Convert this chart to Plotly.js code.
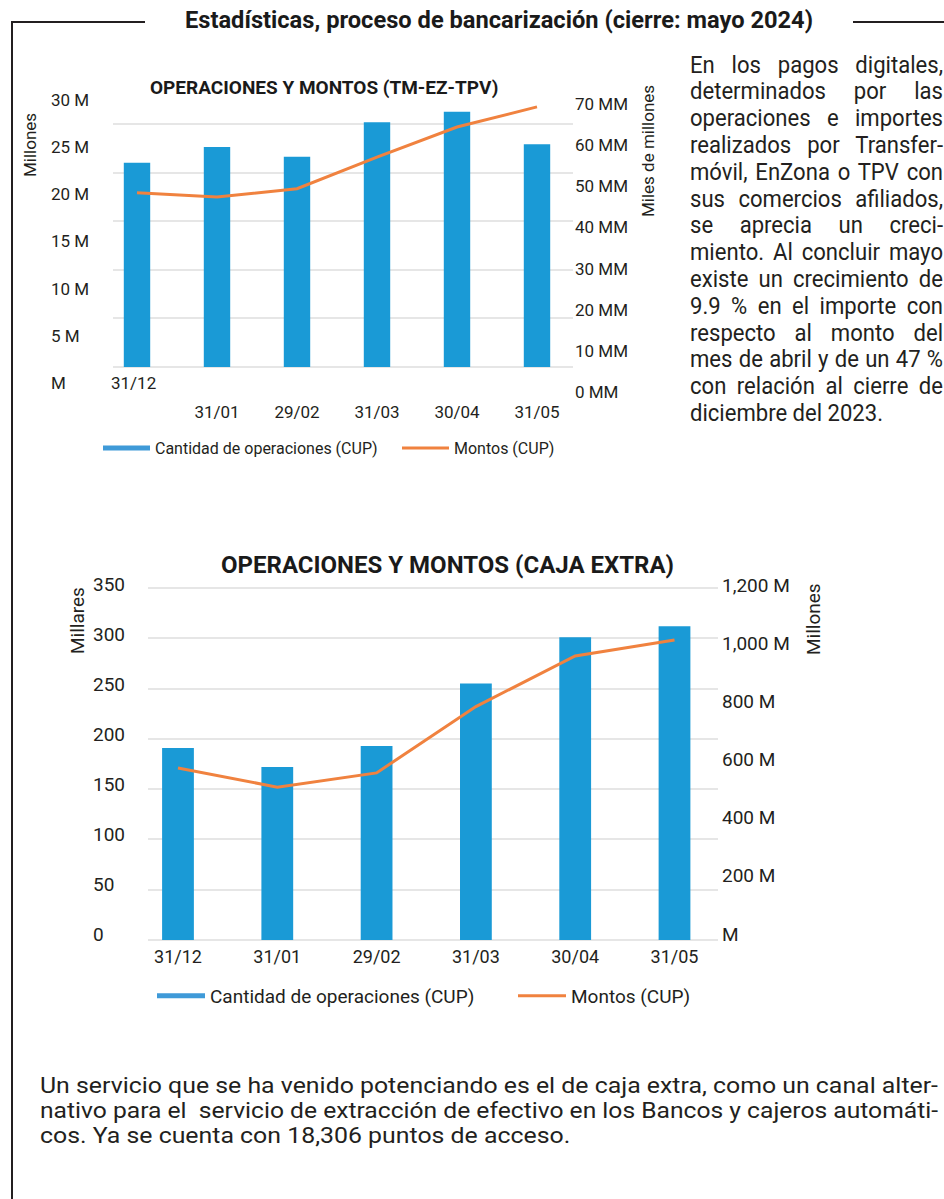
<!DOCTYPE html>
<html><head><meta charset="utf-8">
<script src="https://cdn.plot.ly/plotly-3.0.1.min.js"></script>
<style>
html,body{margin:0;padding:0;background:#fff;}
body{width:944px;height:1199px;position:relative;overflow:hidden;font-family:Roboto,"Liberation Sans",Arial,sans-serif;color:#231f20;}
#plot{position:absolute;left:0;top:0;width:944px;height:1199px;}
.ln{position:absolute;background:#231f20;}
</style></head><body>
<div id="plot"></div>
<div class="ln" style="left:11px;top:21px;width:2px;height:1178px"></div>
<div class="ln" style="left:11px;top:21px;width:134px;height:2px"></div>
<div class="ln" style="left:853px;top:21px;width:91px;height:2px"></div>
<script>
// ---------- data ----------
const categorias = ['31/12','31/01','29/02','31/03','30/04','31/05'];
// Chart 1: TM-EZ-TPV
const operacionesTM = [23.2, 25.0, 23.9, 27.8, 29.0, 25.3];   // millones
const montosTM = [48.4, 47.4, 49.4, 57.1, 64.4, 69.3];        // miles de millones
const ticksIzqTMvals = [0,5,10,15,20,25,30];
const ticksIzqTM = ['M','5 M','10 M','15 M','20 M','25 M','30 M'];
const ticksDerTMvals = [0,10,20,30,40,50,60,70];
const ticksDerTM = ['0 MM','10 MM','20 MM','30 MM','40 MM','50 MM','60 MM','70 MM'];
// Chart 2: Caja extra
const operacionesCaja = [191, 172, 193, 255, 301, 312];      // millares
const montosCaja = [571, 505, 554, 782, 956, 1011];          // millones
const ticksIzqCajaVals = [0,50,100,150,200,250,300,350];
const ticksIzqCaja = ['0','50','100','150','200','250','300','350'];
const ticksDerCajaVals = [0,200,400,600,800,1000,1200];
const ticksDerCaja = ['M','200 M','400 M','600 M','800 M','1,000 M','1,200 M'];
const serieOps = 'Cantidad de operaciones (CUP)';
const serieMontos = 'Montos (CUP)';
const tituloPagina = 'Estadísticas, proceso de bancarización (cierre: mayo 2024)';
const titulo1 = 'OPERACIONES Y MONTOS (TM-EZ-TPV)';
const titulo2 = 'OPERACIONES Y MONTOS (CAJA EXTRA)';
const parrafo1 = ['En los pagos digitales,','determinados por las','operaciones e importes','realizados por Transfer-','móvil, EnZona o TPV con','sus comercios afiliados,','se aprecia un creci-','miento. Al concluir mayo','existe un crecimiento de','9.9 % en el importe con','respecto al monto del','mes de abril y de un 47 %','con relación al cierre de','diciembre del 2023.'];
const parrafo2 = ['Un servicio que se ha venido potenciando es el de caja extra, como un canal alter-','nativo para el  servicio de extracción de efectivo en los Bancos y cajeros automáti-','cos. Ya se cuenta con 18,306 puntos de acceso.'];

// ---------- helpers ----------
const W = 944, H = 1199;
const fx = p => p / W;
const fy = p => 1 - p / H;
function rangeFor(domTop, domBot, p0, v0, p1, v1){
  const k = (p0 - p1) / (v1 - v0);
  return [v0 - (domBot - p0) / k, v0 + (p0 - domTop) / k];
}
const fam = 'Roboto, "Liberation Sans", Arial, sans-serif';
const ink = '#231f20';
const azul = '#1a9ad6';
const azulLeyenda = '#3f9ad8';
const naranja = '#f0823f';
const gris = '#e6e6e6';

// ---------- chart 1 geometry ----------
const c1Top = 95, c1Bot = 396;
const r1 = rangeFor(c1Top, c1Bot, 367, 0, 103, 30);
const pxPerUnit1 = (367 - 103) / 30;
const grid1 = 48.6 / pxPerUnit1;
const r1L = rangeFor(c1Top, c1Bot, 383, 0, 100, 30);
const r1R = rangeFor(c1Top, c1Bot, 392, 0, 104, 70);
// ---------- chart 2 geometry ----------
const c2Top = 578, c2Bot = 942;
const r2 = rangeFor(c2Top, c2Bot, 940, 0, 588, 350);
const r2L = rangeFor(c2Top, c2Bot, 934, 0, 584, 350);
const r2R = rangeFor(c2Top, c2Bot, 934, 0, 585, 1200);

const tf = s => ({family: fam, size: s, color: ink});

const data = [
  {type:'bar', x:categorias, y:operacionesTM, xaxis:'x', yaxis:'y', width:0.33,
   marker:{color:azul}, showlegend:false, hoverinfo:'skip'},
  {type:'scatter', mode:'lines', x:categorias, y:montosTM, xaxis:'x', yaxis:'y2',
   line:{color:naranja, width:3}, showlegend:false, hoverinfo:'skip'},
  {type:'scatter', mode:'lines', x:[null], y:[null], xaxis:'x', yaxis:'y3',
   showlegend:false, hoverinfo:'skip'},
  {type:'scatter', mode:'lines', x:[null], y:[null], xaxis:'x', yaxis:'y', name:serieOps,
   legend:'legend', line:{color:azulLeyenda, width:5}, hoverinfo:'skip'},
  {type:'scatter', mode:'lines', x:[null], y:[null], xaxis:'x', yaxis:'y', name:serieMontos,
   legend:'legend', line:{color:naranja, width:3}, hoverinfo:'skip'},

  {type:'bar', x:categorias, y:operacionesCaja, xaxis:'x2', yaxis:'y4', width:0.32,
   marker:{color:azul}, showlegend:false, hoverinfo:'skip'},
  {type:'scatter', mode:'lines', x:categorias, y:montosCaja, xaxis:'x2', yaxis:'y5',
   line:{color:naranja, width:3}, showlegend:false, hoverinfo:'skip'},
  {type:'scatter', mode:'lines', x:[null], y:[null], xaxis:'x2', yaxis:'y6',
   showlegend:false, hoverinfo:'skip'},
  {type:'scatter', mode:'lines', x:[null], y:[null], xaxis:'x2', yaxis:'y4', name:serieOps,
   legend:'legend2', line:{color:azulLeyenda, width:5}, hoverinfo:'skip'},
  {type:'scatter', mode:'lines', x:[null], y:[null], xaxis:'x2', yaxis:'y4', name:serieMontos,
   legend:'legend2', line:{color:naranja, width:3}, hoverinfo:'skip'}
];

const noLine = {showline:false, zeroline:false, ticks:''};

const layout = {
  width: W, height: H, margin:{l:0,r:0,t:0,b:0},
  paper_bgcolor:'rgba(0,0,0,0)', plot_bgcolor:'rgba(0,0,0,0)',
  font:{family:fam, color:ink},
  barmode:'overlay',
  xaxis: Object.assign({domain:[fx(113), fx(573)], anchor:'y', type:'category',
    categoryorder:'array', categoryarray:categorias, range:[-0.3, 5.45],
    tickmode:'array', tickvals:categorias, ticktext:categorias.map((c,i)=> i===0 ? '' : c),
    tickfont:tf(17), showgrid:false, ticklabelstandoff:4}, noLine),
  yaxis: Object.assign({domain:[fy(c1Bot), fy(c1Top)], anchor:'x', range:r1,
    showgrid:true, gridcolor:gris, gridwidth:2, tick0:0, dtick:grid1, showticklabels:false}, noLine),
  yaxis2: Object.assign({overlaying:'y', side:'right', anchor:'x', range:r1R,
    tickmode:'array', tickvals:ticksDerTMvals, ticktext:ticksDerTM, tickfont:tf(17),
    showgrid:false, ticklabelstandoff:1}, noLine),
  yaxis3: Object.assign({overlaying:'y', side:'right', anchor:'free', position:fx(50), range:r1L,
    tickmode:'array', tickvals:ticksIzqTMvals, ticktext:ticksIzqTM, tickfont:tf(17),
    showgrid:false, ticklabelstandoff:0}, noLine),

  xaxis2: Object.assign({domain:[fx(148), fx(718)], anchor:'y4', type:'category',
    categoryorder:'array', categoryarray:categorias, range:[-0.302, 5.438],
    tickmode:'array', tickvals:categorias, ticktext:categorias,
    tickfont:tf(18), showgrid:false, ticklabelstandoff:2}, noLine),
  yaxis4: Object.assign({domain:[fy(c2Bot), fy(c2Top)], anchor:'x2', range:r2,
    showgrid:true, gridcolor:gris, gridwidth:2, tick0:0, dtick:50, showticklabels:false}, noLine),
  yaxis5: Object.assign({overlaying:'y4', side:'right', anchor:'x2', range:r2R,
    tickmode:'array', tickvals:ticksDerCajaVals, ticktext:ticksDerCaja, tickfont:tf(19),
    showgrid:false, ticklabelstandoff:3}, noLine),
  yaxis6: Object.assign({overlaying:'y4', side:'right', anchor:'free', position:fx(92), range:r2L,
    tickmode:'array', tickvals:ticksIzqCajaVals, ticktext:ticksIzqCaja, tickfont:tf(19),
    showgrid:false, ticklabelstandoff:0}, noLine),

  legend: {orientation:'h', x:fx(98), xanchor:'left', y:fy(448), yanchor:'middle',
    font:{family:fam, size:16, color:ink}, itemwidth:47, entrywidth:237, entrywidthmode:'pixels',
    bgcolor:'rgba(0,0,0,0)', borderwidth:0, traceorder:'normal'},
  legend2: {orientation:'h', x:fx(152), xanchor:'left', y:fy(996), yanchor:'middle',
    font:{family:fam, size:19, color:ink}, itemwidth:48, entrywidth:298, entrywidthmode:'pixels',
    bgcolor:'rgba(0,0,0,0)', borderwidth:0, traceorder:'normal'},

  annotations: [
    {text:'<b>'+titulo1+'</b>', x:fx(324), y:fy(87), xref:'paper', yref:'paper',
     showarrow:false, xanchor:'center', yanchor:'middle', font:{family:fam, size:19, color:'#1a1a1a'}},
    {text:'Millones', x:fx(30), y:fy(145), xref:'paper', yref:'paper', textangle:-90,
     showarrow:false, xanchor:'center', yanchor:'middle', font:tf(17)},
    {text:'Miles de millones', x:fx(648), y:fy(151), xref:'paper', yref:'paper', textangle:-90,
     showarrow:false, xanchor:'center', yanchor:'middle', font:tf(17)},
    {text:categorias[0], x:categorias[0], xref:'x', y:fy(383), yref:'paper', xshift:-4,
     showarrow:false, xanchor:'center', yanchor:'middle', font:tf(17)},
    {text:'<b>'+titulo2+'</b>', x:fx(447), y:fy(565), xref:'paper', yref:'paper',
     showarrow:false, xanchor:'center', yanchor:'middle', font:{family:fam, size:24, color:'#1a1a1a'}},
    {text:'Millares', x:fx(77), y:fy(621), xref:'paper', yref:'paper', textangle:-90,
     showarrow:false, xanchor:'center', yanchor:'middle', font:tf(19)},
    {text:'Millones', x:fx(813), y:fy(619), xref:'paper', yref:'paper', textangle:-90,
     showarrow:false, xanchor:'center', yanchor:'middle', font:tf(19)}
  ]
};

Plotly.newPlot('plot', data, layout, {staticPlot:true, displayModeBar:false});

// ---------- HTML text ----------
function makeLine(t, left, centerY, lh, fs, weight, color){
  const d = document.createElement('div');
  d.style.cssText = 'position:absolute;left:'+left+'px;top:'+(centerY - lh/2)+'px;height:'+lh+'px;line-height:'+lh+'px;font-size:'+fs+'px;white-space:pre;font-weight:'+weight+';color:'+color+';';
  const s = document.createElement('span');
  s.textContent = t;
  s.style.display = 'inline-block';
  s.style.transformOrigin = '0 50%';
  d.appendChild(s);
  document.body.appendChild(d);
  return s;
}
// justified block: every line but the last fills `width`; base horizontal scaling `cond`
function placeBlock(lines, left, width, firstCenter, lh, fs, cond, lastWidth){
  lines.forEach((t, i) => {
    const s = makeLine(t, left, firstCenter + i*lh, lh, fs, 400, ink);
    const w = s.getBoundingClientRect().width;
    const last = i === lines.length - 1;
    if (last) {
      const target = lastWidth || w * cond;
      s.style.transform = 'scaleX(' + (target / w) + ')';
    } else if (w * cond >= width) {
      s.style.transform = 'scaleX(' + (width / w) + ')';
    } else {
      const n = (t.match(/ /g) || []).length;
      if (n) s.style.wordSpacing = ((width / cond - w) / n) + 'px';
      s.style.transform = 'scaleX(' + cond + ')';
    }
  });
}
(function(){
  const s = makeLine(tituloPagina, 185, 20, 30, 24, 700, '#1a1a1a');
  const w = s.getBoundingClientRect().width;
  s.style.transform = 'scaleX(' + (628 / w) + ')';
})();
placeBlock(parrafo1, 690, 253, 65, 26.8, 24, 0.92, 193);
placeBlock(parrafo2, 40, 898, 1085, 25, 22, 1.13, 0);
</script>
</body></html>
